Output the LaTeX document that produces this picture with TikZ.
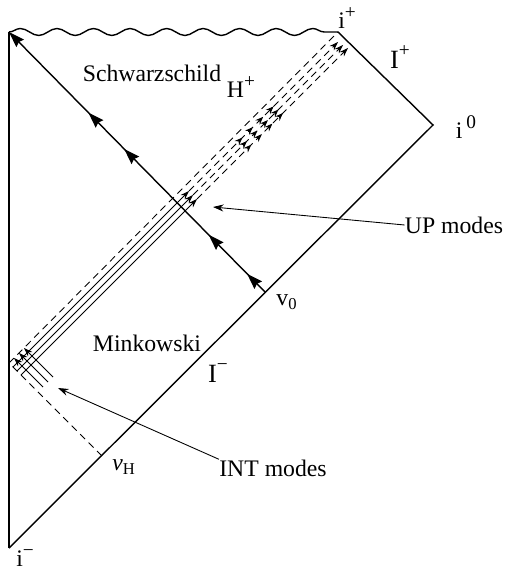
\documentclass[tikz,border=0pt]{standalone}
\usepackage{fontspec}
\setmainfont{Liberation Serif}
\usetikzlibrary{arrows.meta,decorations.pathmorphing,decorations.markings}

\tikzset{
  bnd/.style={line width=0.8pt},
  wavy/.style={decorate,decoration={snake,segment length=0.731cm,amplitude=0.07cm}},
  modeline/.style={line width=0.5pt},
  modedash/.style={modeline,dash pattern=on 4pt off 2.8pt},
  lbl/.style={font=\fontsize{13.5}{16}\selectfont,inner sep=0pt},
  lead/.style={line width=0.5pt,-{Stealth[length=6pt,width=4pt]}},
  smalltip/.style={-{Stealth[length=5pt,width=3.5pt]}},
  raymarks/.style={decoration={markings,
      mark=at position 0.07 with {\arrow{Stealth[length=9pt,width=6pt,inset=1pt]}},
      mark=at position 0.22 with {\arrow{Stealth[length=9pt,width=6pt,inset=1pt]}},
      mark=at position 0.55 with {\arrow{Stealth[length=9pt,width=6pt,inset=1pt]}},
      mark=at position 0.69 with {\arrow{Stealth[length=9pt,width=6pt,inset=1pt]}}},
    postaction=decorate},
  modemarks/.style={decoration={markings,
      mark=at position 0.36 with {\arrow{Stealth[length=4.5pt,width=3.5pt]}},
      mark=at position 0.43 with {\arrow{Stealth[length=4.5pt,width=3.5pt]}},
      mark=at position 0.50 with {\arrow{Stealth[length=4.5pt,width=3.5pt]}},
      mark=at position 0.57 with {\arrow{Stealth[length=4.5pt,width=3.5pt]}}},
    postaction=decorate}
}
\newcommand{\sups}[1]{\raisebox{0.45em}{\fontsize{11}{12}\selectfont #1}}

\begin{document}
\begin{tikzpicture}[x=0.02cm,y=-0.02cm]
  \useasboundingbox (0,0) rectangle (507,570);

  %% Corners of the diagram
  \coordinate (tl) at (9,32);
  \coordinate (ip) at (338,32);
  \coordinate (izero) at (433,125);
  \coordinate (im) at (9,548);
  \coordinate (vzero) at (265,292);
  \coordinate (vh) at (102,456);
  \coordinate (hr) at (9,363);

  %% Boundary
  \draw[bnd] (im) -- (tl);
  \draw[bnd,wavy] (tl) -- (ip);
  \draw[bnd] (ip) -- (izero) -- (im);

  %% Ray from v0
  \draw[bnd,raymarks,-{Stealth[length=9pt,width=6pt,inset=1pt]}] (vzero) -- (tl);

  %% Horizon ray from vH
  \draw[modedash] (vh) -- (hr) -- (ip);

  %% Mode bundle
  \foreach \c/\d [count=\k] in {380/344,388/334,396/324}{
    \coordinate (os\k) at ({(\c-354)/2},{(\c+354)/2});
    \coordinate (oe\k) at ({(\c-2)/2},{(\c+2)/2});
    \coordinate (ot\k) at ({338+5*(\k-1)},{\c-338-5*(\k-1)});
    \coordinate (ia\k) at ({(372-\d)/2},{(372+\d)/2});
    \coordinate (ib\k) at ({(430-\d)/2},{(430+\d)/2});
    \draw[modeline,smalltip] (os\k) -- (oe\k);
    \draw[modedash,modemarks,smalltip] (oe\k) -- (ot\k);
    \draw[modeline,smalltip] (ib\k) -- (ia\k);
  }

  %% Labels
  \node[lbl] (schw) at (152,73) {Schwarzschild};
  \node[lbl] (hplus) at (241,87) {H\sups{+}};
  \node[lbl] (mink) at (147,343) {Minkowski};
  \node[lbl] (iplab) at (347,18) {i\sups{+}};
  \node[lbl,font=\fontsize{15}{18}\selectfont] (scriplus) at (400,57) {I\sups{+}};
  \node[lbl] (izlab) at (466,127) {i\,\sups{0}};
  \node[lbl] (vzlab) at (287,302) {v\textsubscript{0}};
  \node[lbl,font=\fontsize{15}{18}\selectfont] (scriminus) at (218,373) {I\sups{−}};
  \node[lbl] (vhlab) at (124,467) {\textit{v}\textsubscript{H}};
  \node[lbl] (up) at (454,225) {UP modes};
  \node[lbl] (int) at (273,468) {INT modes};
  \node[lbl] (imlab) at (25,558) {i\sups{−}};

  %% Leaders
  \coordinate (uptip) at (213,207);
  \coordinate (inttip) at (58,388);
  \draw[lead] (up.west) -- (uptip);
  \draw[lead] (int.north west) -- (inttip);
\end{tikzpicture}
\end{document}
